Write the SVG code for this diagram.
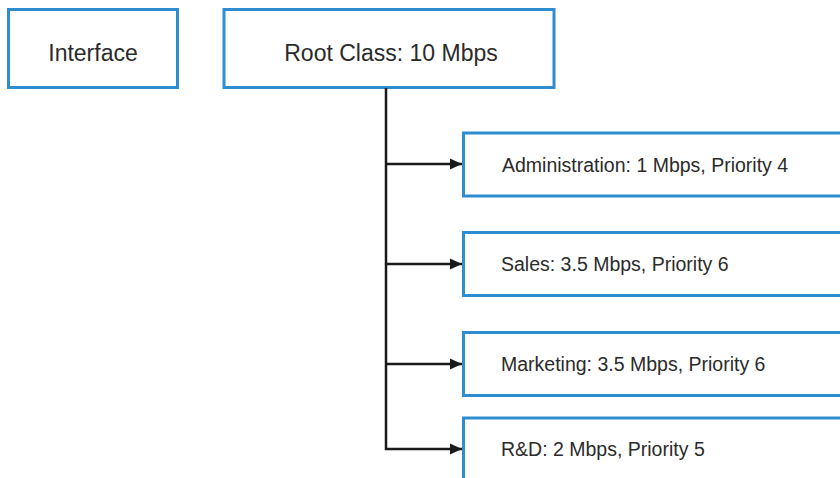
<svg xmlns="http://www.w3.org/2000/svg" width="840" height="478" viewBox="0 0 840 478">
  <style>
    .box { fill: #ffffff; stroke: #2e8cd0; stroke-width: 3; }
    .t1 { font-family: "Liberation Sans", Arial, sans-serif; font-size: 23px; fill: #2b2b2b; }
    .t2 { font-family: "Liberation Sans", Arial, sans-serif; font-size: 19.5px; fill: #2b2b2b; }
    .conn { fill: none; stroke: #1a1a1a; stroke-width: 2.5; }
  </style>
  <defs>
    <marker id="arr" markerUnits="userSpaceOnUse" markerWidth="12" markerHeight="12" refX="12" refY="6" orient="auto">
      <path d="M0,0.5 L12,6 L0,11.5 Z" fill="#1a1a1a"/>
    </marker>
  </defs>
  <rect width="840" height="478" fill="#ffffff"/>
  <g id="interface">
    <rect class="box" x="8.5" y="9.5" width="169" height="78"/>
    <text class="t1" x="93" y="61" text-anchor="middle">Interface</text>
  </g>
  <g id="root">
    <rect class="box" x="224" y="9.5" width="330" height="78"/>
    <text class="t1" x="391" y="61" text-anchor="middle">Root Class: 10 Mbps</text>
  </g>
  <g id="admin">
    <rect class="box" x="463.5" y="133" width="400" height="63"/>
    <text class="t2" x="502" y="171.5">Administration: 1 Mbps, Priority 4</text>
  </g>
  <g id="sales">
    <rect class="box" x="463.5" y="232.5" width="400" height="63"/>
    <text class="t2" x="501" y="270.5">Sales: 3.5 Mbps, Priority 6</text>
  </g>
  <g id="marketing">
    <rect class="box" x="463.5" y="332.5" width="400" height="63"/>
    <text class="t2" x="501" y="371">Marketing: 3.5 Mbps, Priority 6</text>
  </g>
  <g id="rnd">
    <rect class="box" x="463.5" y="418" width="400" height="80"/>
    <text class="t2" x="501" y="456">R&amp;D: 2 Mbps, Priority 5</text>
  </g>
  <g id="connectors">
    <path class="conn" d="M386,88 V449 H462" marker-end="url(#arr)"/>
    <path class="conn" d="M386,164 H462" marker-end="url(#arr)"/>
    <path class="conn" d="M386,264 H462" marker-end="url(#arr)"/>
    <path class="conn" d="M386,364 H462" marker-end="url(#arr)"/>
  </g>
</svg>
